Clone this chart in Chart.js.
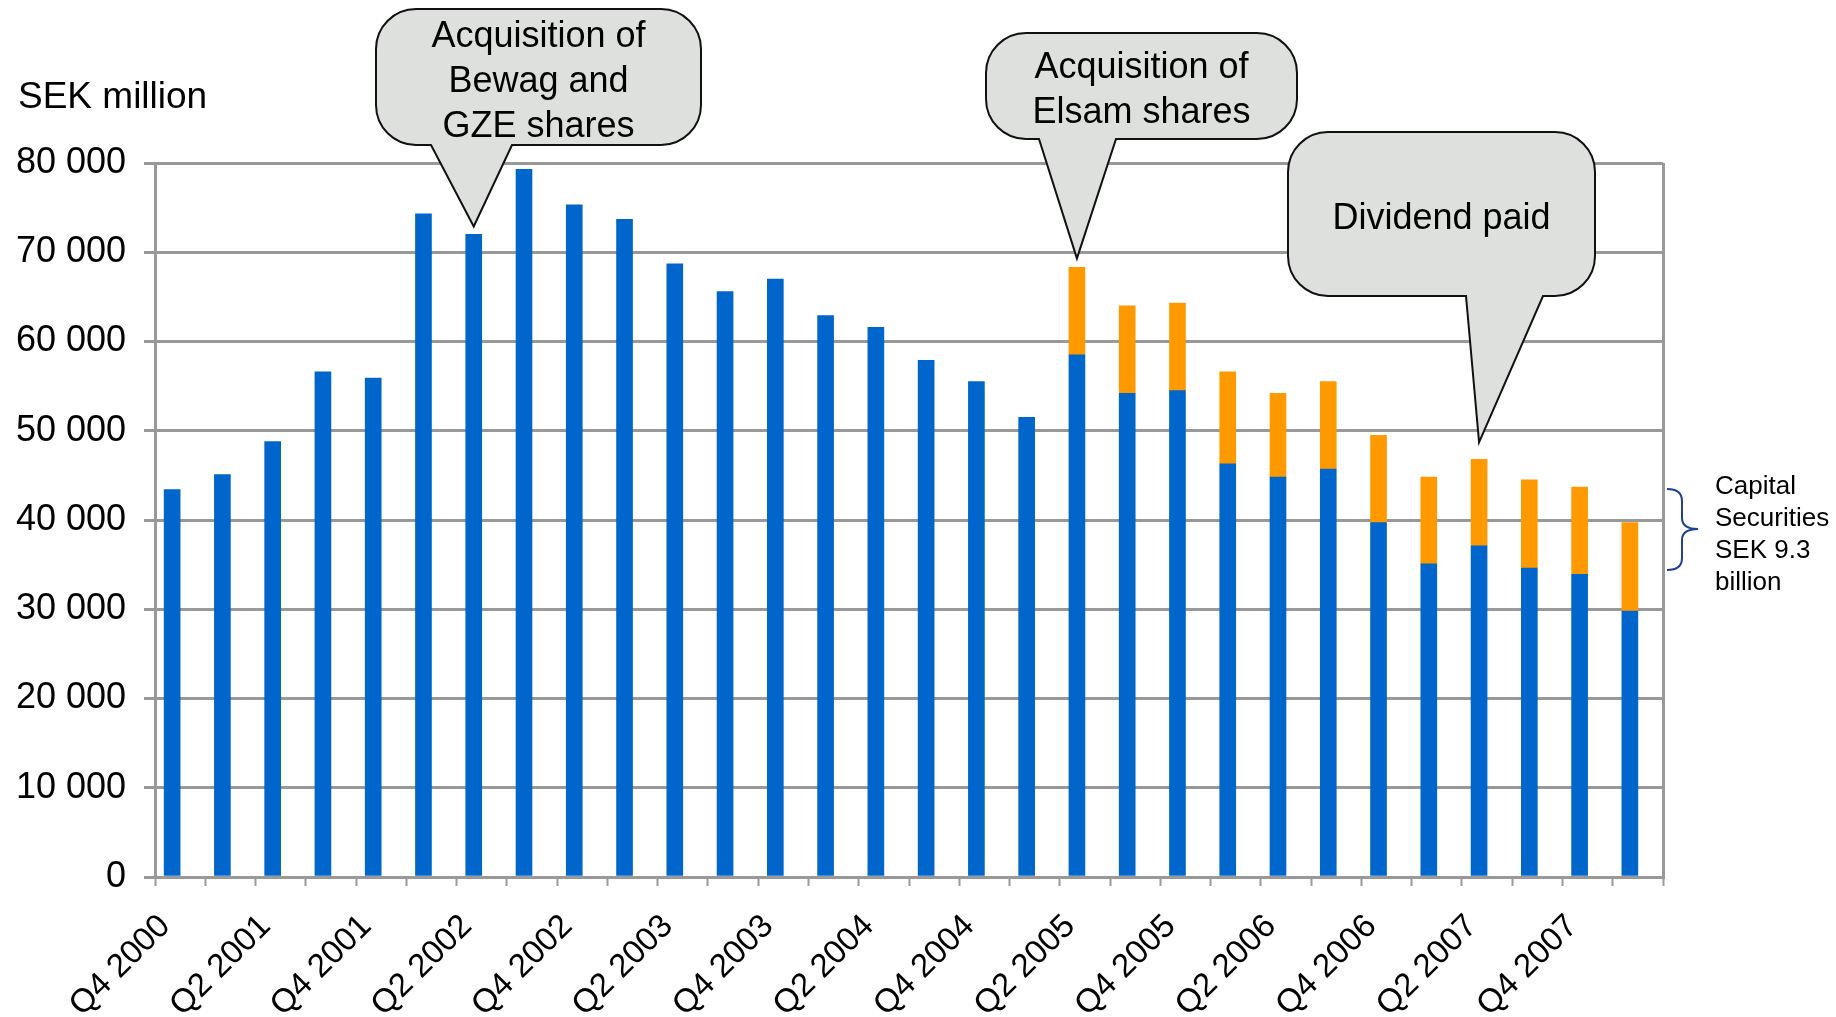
<!DOCTYPE html>
<html lang="en">
<head>
<meta charset="UTF-8">
<title>Net debt, SEK million</title>
<script src="https://cdn.jsdelivr.net/npm/chart.js"></script>
<style>
  body { margin: 0; background: #fff; }
  #wrap { width: 1836px; height: 1017px; }
</style>
</head>
<body>
<div id="wrap"><canvas id="debtChart" width="1836" height="1017"></canvas></div>
<script>
const quarters = [
  'Q4 2000', 'Q1 2001', 'Q2 2001', 'Q3 2001', 'Q4 2001', 'Q1 2002', 'Q2 2002', 'Q3 2002',
  'Q4 2002', 'Q1 2003', 'Q2 2003', 'Q3 2003', 'Q4 2003', 'Q1 2004', 'Q2 2004', 'Q3 2004',
  'Q4 2004', 'Q1 2005', 'Q2 2005', 'Q3 2005', 'Q4 2005', 'Q1 2006', 'Q2 2006', 'Q3 2006',
  'Q4 2006', 'Q1 2007', 'Q2 2007', 'Q3 2007', 'Q4 2007', 'Q1 2008'
];
// blue part of each bar
const netDebt = [
  43400, 45100, 48800, 56600, 55900, 74300, 72000, 79300,
  75300, 73700, 68700, 65600, 67000, 62900, 61600, 57900,
  55500, 51500, 58500, 54200, 54500, 46300, 44800, 45700,
  39700, 35100, 37100, 34600, 33900, 29800
];
// orange part (capital securities), only from Q2 2005
const capitalSecurities = [
  null, null, null, null, null, null, null, null,
  null, null, null, null, null, null, null, null,
  null, null, 9800, 9800, 9800, 10300, 9400, 9800,
  9800, 9700, 9700, 9900, 9800, 9900
];
const yTicks = [0, 10000, 20000, 30000, 40000, 50000, 60000, 70000, 80000];

const FONT = '"Liberation Sans", Arial, sans-serif';
const GRID = '#999999';

// speech bubbles, tip points at the top of a bar
const callouts = [
  { lines: ['Acquisition of', 'Bewag and', 'GZE shares'], box: [376, 9, 701, 145], base: [431, 512], bar: 6, gap: 8 },
  { lines: ['Acquisition of', 'Elsam shares'], box: [986, 33, 1297, 139], base: [1039, 1116], bar: 18, gap: 9 },
  { lines: ['Dividend paid'], box: [1288, 132, 1595, 296], base: [1466, 1543], bar: 26, gap: 17 }
];

function formatThousands(v) {
  return String(v).replace(/\B(?=(\d{3})+(?!\d))/g, ' ');
}

function drawBubble(ctx, c, tipX, tipY) {
  const [l, t, r, b] = c.box;
  const rad = 40;
  ctx.beginPath();
  ctx.moveTo(l + rad, t);
  ctx.arcTo(r, t, r, b, rad);
  ctx.arcTo(r, b, l, b, rad);
  ctx.lineTo(c.base[1], b);
  ctx.lineTo(tipX, tipY);
  ctx.lineTo(c.base[0], b);
  ctx.arcTo(l, b, l, t, rad);
  ctx.arcTo(l, t, r, t, rad);
  ctx.closePath();
  ctx.fillStyle = '#dde0dd';
  ctx.fill();
  ctx.lineWidth = 2;
  ctx.strokeStyle = '#111';
  ctx.stroke();

  ctx.fillStyle = '#000';
  ctx.font = '36px ' + FONT;
  ctx.textAlign = 'center';
  ctx.textBaseline = 'middle';
  const cx = (l + r) / 2;
  const cy = (t + b) / 2 + 5;
  const lh = 45;
  c.lines.forEach((txt, i) => {
    ctx.fillText(txt, cx, cy + (i - (c.lines.length - 1) / 2) * lh);
  });
}

const annotations = {
  id: 'annotations',
  afterDatasetsDraw(chart) {
    const ctx = chart.ctx;
    const ys = chart.scales.y;
    const barMeta = chart.getDatasetMeta(0);
    ctx.save();

    callouts.forEach(c => {
      const i = c.bar;
      const top = ys.getPixelForValue(netDebt[i] + (capitalSecurities[i] || 0));
      drawBubble(ctx, c, barMeta.data[i].x, top - c.gap);
    });

    // axis unit
    ctx.fillStyle = '#000';
    ctx.font = '37px ' + FONT;
    ctx.textAlign = 'left';
    ctx.textBaseline = 'middle';
    ctx.fillText('SEK million', 18, 98);

    // brace next to the last bars
    ctx.beginPath();
    ctx.moveTo(1667, 489);
    ctx.quadraticCurveTo(1682, 489, 1682, 501);
    ctx.lineTo(1682, 518);
    ctx.quadraticCurveTo(1682, 529, 1698, 529);
    ctx.quadraticCurveTo(1682, 529, 1682, 540);
    ctx.lineTo(1682, 558);
    ctx.quadraticCurveTo(1682, 570, 1667, 570);
    ctx.lineWidth = 2;
    ctx.strokeStyle = '#1f3f99';
    ctx.stroke();

    ctx.font = '26px ' + FONT;
    ['Capital', 'Securities', 'SEK 9.3', 'billion'].forEach((txt, i) => {
      ctx.fillText(txt, 1715, 487 + i * 32);
    });
    ctx.restore();
  }
};

new Chart(document.getElementById('debtChart'), {
  type: 'bar',
  data: {
    labels: quarters,
    datasets: [
      { label: 'Net debt', data: netDebt, backgroundColor: '#0066cc', stack: 'debt', barThickness: 16 },
      { label: 'Capital securities', data: capitalSecurities, backgroundColor: '#ff9900', stack: 'debt', barThickness: 16 },
      // empty second stack, keeps the bars left of the category centre like the original
      { label: '', data: [], stack: 'pad', barThickness: 16 }
    ]
  },
  options: {
    responsive: false,
    animation: false,
    layout: { padding: { top: 163, right: 173, left: 0, bottom: 0 } },
    plugins: {
      legend: { display: false },
      tooltip: { enabled: false }
    },
    scales: {
      x: {
        stacked: true,
        afterFit: s => { s.height = 140; },
        border: { color: GRID, width: 3 },
        grid: {
          offset: true,
          drawOnChartArea: true,
          color: ctx => ctx.type === 'scale' ? GRID : 'rgba(0,0,0,0)',
          lineWidth: 3,
          tickColor: GRID,
          tickWidth: 2,
          tickLength: 9
        },
        ticks: {
          autoSkip: false,
          minRotation: 45,
          maxRotation: 45,
          padding: 21,
          labelOffset: -15,
          color: '#000',
          font: { family: FONT, size: 33 },
          callback: function (value, index) {
            return index % 2 === 0 ? this.getLabelForValue(value) : '';
          }
        }
      },
      y: {
        stacked: true,
        min: yTicks[0],
        max: yTicks[yTicks.length - 1],
        afterFit: s => { s.width = 155; },
        afterBuildTicks: s => { s.ticks = yTicks.map(v => ({ value: v })); },
        border: { color: GRID, width: 3 },
        grid: { color: GRID, lineWidth: 3, tickLength: 11 },
        ticks: {
          padding: 18,
          color: '#000',
          font: { family: FONT, size: 36 },
          callback: v => formatThousands(v)
        }
      }
    }
  },
  plugins: [annotations]
});
</script>
</body>
</html>
